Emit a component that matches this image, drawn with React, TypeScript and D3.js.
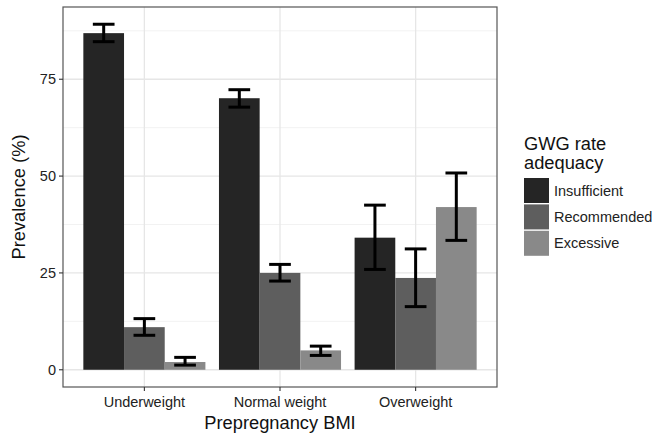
import React from "react";
import * as d3 from "d3";

const categories = ["Underweight", "Normal weight", "Overweight"];
const groups = ["Insufficient", "Recommended", "Excessive"];
const values = [
  [86.9, 11.0, 2.0],
  [70.1, 25.0, 5.0],
  [34.1, 23.7, 42.0],
];
const lower = [
  [84.7, 8.9, 1.2],
  [67.8, 22.9, 3.7],
  [25.9, 16.3, 33.4],
];
const upper = [
  [89.2, 13.2, 3.2],
  [72.3, 27.2, 6.1],
  [42.5, 31.2, 50.8],
];
const yTicks = [0, 25, 50, 75];
const yMinor = [12.5, 37.5, 62.5, 87.5];
const fills = ["#252525", "#5e5e5e", "#898989"];

const W = 655, H = 437;
const L = 63, R = 497, T = 7, B = 387;
const font = "'Liberation Sans', Arial, sans-serif";
const tickSize = 14.5;
const titleSize = 18.3;

export default function App() {
  const y = d3.scaleLinear().domain([-4.45, 93.65]).range([B, T]);
  // discrete axis with ggplot expansion: positions 1..3 in [0.4, 3.6]
  const xc = d3.scaleLinear().domain([0.4, 3.6]).range([L, R]);
  const unit = xc(1) - xc(0);
  const barW = 0.9 / 3;
  const capW = 0.16;
  return (
    <svg width={W} height={H} style={{ position: "absolute", left: 0, top: 0, background: "#fff" }}>
      <rect x={0} y={0} width={W} height={H} fill="#fff" />
      {yMinor.map((v) => (
        <line key={"m" + v} x1={L} x2={R} y1={y(v)} y2={y(v)} stroke="#f2f2f2" strokeWidth={1} />
      ))}
      {yTicks.map((v) => (
        <line key={"g" + v} x1={L} x2={R} y1={y(v)} y2={y(v)} stroke="#e6e6e6" strokeWidth={1.3} />
      ))}
      {categories.map((c, i) => (
        <line key={"gx" + c} x1={xc(i + 1)} x2={xc(i + 1)} y1={T} y2={B} stroke="#e6e6e6" strokeWidth={1.3} />
      ))}
      {categories.map((c, i) =>
        groups.map((g, j) => {
          const x0 = xc(i + 1 - 0.45 + j * barW);
          return (
            <rect key={c + g} x={x0} y={y(values[i][j])} width={barW * unit} height={y(0) - y(values[i][j])} fill={fills[j]} />
          );
        })
      )}
      {categories.map((c, i) =>
        groups.map((g, j) => {
          const cx = xc(i + 1 - 0.45 + (j + 0.5) * barW);
          const hw = (capW / 2) * unit;
          return (
            <g key={"e" + c + g} stroke="#000" strokeWidth={3}>
              <line x1={cx} x2={cx} y1={y(upper[i][j])} y2={y(lower[i][j])} />
              <line x1={cx - hw} x2={cx + hw} y1={y(upper[i][j])} y2={y(upper[i][j])} />
              <line x1={cx - hw} x2={cx + hw} y1={y(lower[i][j])} y2={y(lower[i][j])} />
            </g>
          );
        })
      )}
      <rect x={L} y={T} width={R - L} height={B - T} fill="none" stroke="#555" strokeWidth={1.2} />
      {yTicks.map((v) => (
        <g key={"t" + v}>
          <line x1={L - 4} x2={L} y1={y(v)} y2={y(v)} stroke="#333" strokeWidth={1.1} />
          <text x={L - 7} y={y(v)} dy="0.35em" textAnchor="end" fontFamily={font} fontSize={tickSize} fill="#222">{v}</text>
        </g>
      ))}
      {categories.map((c, i) => (
        <g key={"xt" + c}>
          <line x1={xc(i + 1)} x2={xc(i + 1)} y1={B} y2={B + 4} stroke="#333" strokeWidth={1.1} />
          <text x={xc(i + 1)} y={B + 20} textAnchor="middle" fontFamily={font} fontSize={tickSize} fill="#222">{c}</text>
        </g>
      ))}
      <text x={(L + R) / 2} y={428.5} textAnchor="middle" fontFamily={font} fontSize={titleSize} fill="#111">Prepregnancy BMI</text>
      <text transform={`translate(25,${(T + B) / 2}) rotate(-90)`} textAnchor="middle" fontFamily={font} fontSize={titleSize} fill="#111">Prevalence (%)</text>
      <text x={524} y={150} fontFamily={font} fontSize={titleSize} fill="#111">GWG rate</text>
      <text x={524} y={169} fontFamily={font} fontSize={titleSize} fill="#111">adequacy</text>
      {groups.map((g, j) => (
        <g key={"lg" + g}>
          <rect x={524} y={178 + j * 26.4} width={25} height={25} fill={fills[j]} />
          <text x={554} y={178 + j * 26.4 + 12.5} dy="0.35em" fontFamily={font} fontSize={tickSize} fill="#222">{g}</text>
        </g>
      ))}
    </svg>
  );
}
